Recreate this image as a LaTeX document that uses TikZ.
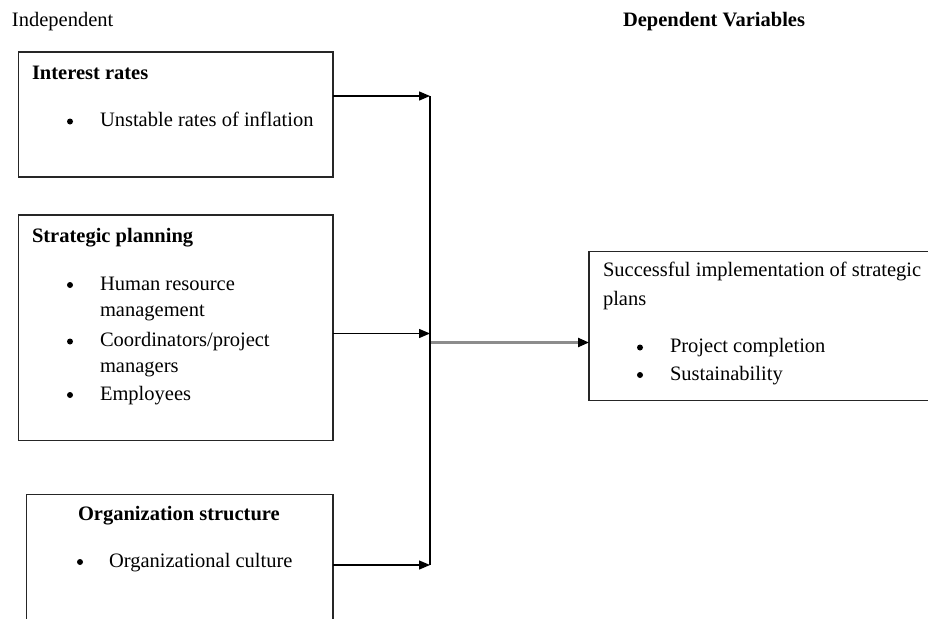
\documentclass[tikz,border=0pt]{standalone}
\usepackage{fontspec}
\setmainfont{Liberation Serif}
\usetikzlibrary{arrows.meta}
\begin{document}
\begin{tikzpicture}[x=1pt,y=-1pt,
  every node/.style={inner sep=0pt,outer sep=0pt,font=\fontsize{20.5}{24}\selectfont},
  txt/.style={anchor=base west},
  hdr/.style={anchor=base west,font=\fontsize{20.5}{24}\selectfont\bfseries},
  bul/.style={circle,fill=black,minimum size=6pt,yshift=5pt},
  boxs/.style={draw=black!85,line width=1.6pt},
  arr/.style={line width=1.3pt,-{Triangle[length=11pt,width=9pt]}},
  garr/.style={draw=black!45,line width=2.2pt,-{Triangle[length=11pt,width=9pt,fill=black,color=black]}},
  bus/.style={line width=1.3pt}]
\useasboundingbox (0,0) rectangle (928,618);
\fill[white] (0,0) rectangle (928,618);
% labels
\node[txt] (lind) at (12,27) {Independent};
\node[hdr] (ldep) at (623,27) {Dependent Variables};
% boxes
\node[draw=none,minimum width=314.5pt,minimum height=125pt,anchor=north west] (b1) at (18.5,52) {};
\draw[boxs] (18.5,52) rectangle (333,177);
\node[draw=none,minimum width=314.5pt,minimum height=225.5pt,anchor=north west] (b2) at (18.5,215) {};
\draw[boxs] (18.5,215) rectangle (333,440.5);
\node[draw=none,minimum width=306.5pt,minimum height=130pt,anchor=north west] (b3) at (26.5,494.5) {};
\draw[boxs] (26.5,630) -- (26.5,494.5) -- (333,494.5) -- (333,630);
\node[draw=none,minimum width=345pt,minimum height=149pt,anchor=north west] (bd) at (589,251.5) {};
\draw[boxs] (940,251.5) -- (589,251.5) -- (589,400.5) -- (940,400.5);
% box 1 text
\node[hdr] (h1) at (32,79) {Interest rates};
\node[bul] (u1) at (70,126.5) {};
\node[txt] (t1) at (100,126.5) {Unstable rates of inflation};
% box 2 text
\node[hdr] (h2) at (32,242.5) {Strategic planning};
\node[bul] (u2a) at (70,290) {};
\node[txt] (t2a) at (100,290) {Human resource};
\node[txt] (t2b) at (100,316.5) {management};
\node[bul] (u2c) at (70,346.5) {};
\node[txt] (t2c) at (100,346.5) {Coordinators/project};
\node[txt] (t2d) at (100,372.5) {managers};
\node[bul] (u2e) at (70,400) {};
\node[txt] (t2e) at (100,400) {Employees};
% box 3 text
\node[hdr] (h3) at (78,520) {Organization structure};
\node[bul] (u3) at (80,567) {};
\node[txt] (t3) at (109,567) {Organizational culture};
% dependent box text
\node[txt] (td1) at (603,276.5) {Successful implementation of strategic};
\node[txt] (td2) at (603,305) {plans};
\node[bul] (ud3) at (640,352.5) {};
\node[txt] (td3) at (670,352.5) {Project completion};
\node[bul] (ud4) at (640,380) {};
\node[txt] (td4) at (670,380) {Sustainability};
% connectors
\coordinate (a1) at (430,96);
\coordinate (a2) at (430,333.5);
\coordinate (a3) at (430,565);
\coordinate (g0) at (431,342.5);
\draw[bus] (a1) -- (a3);
\draw[arr] (b1.east |- a1) -- (a1);
\draw[arr] (b2.east |- a2) -- (a2);
\draw[arr] (b3.east |- a3) -- (a3);
\draw[garr] (g0) -- (bd.west |- g0);
\end{tikzpicture}
\end{document}
